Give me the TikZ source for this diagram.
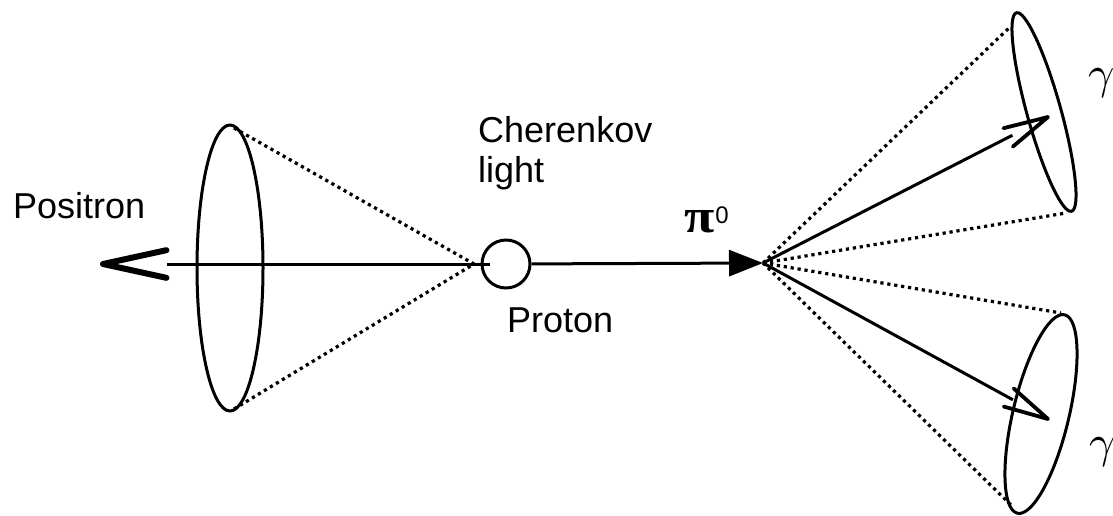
\documentclass[tikz,border=0pt]{standalone}
\usepackage{graphicx}
\usepackage{fontspec}
\setmainfont{Liberation Sans}
\newfontfamily\piserif{Liberation Serif}
\usetikzlibrary{arrows.meta,calc,shapes.geometric}
\begin{document}
\begin{tikzpicture}[x=1pt,y=1pt,
  lbl/.style={font=\fontsize{36}{40}\selectfont, inner sep=0, anchor=base west},
  main/.style={line width=3pt},
  dots/.style={line width=3.2pt, dash pattern=on 3.2pt off 3.8pt},
  barb/.style={line width=3.8pt, line cap=round, line join=round},
  ring/.style={draw, ellipse, line width=3pt, inner sep=0}]
\useasboundingbox (0,0) rectangle (1113,-515);
% proton and vertices
\node[draw, circle, main, minimum size=48pt, inner sep=0] (proton) at (506,-264) {};
\coordinate (v) at (763,-263);
\coordinate (apex) at (474,-264);
% left cone
\node[ring, minimum width=66pt, minimum height=286pt] (ringL) at (230,-268) {};
\coordinate (lt) at (234,-128);
\coordinate (lb) at (234,-409);
\draw[dots] (lt) -- (apex) -- (lb);
% positron arrow
\coordinate (pin) at (490,-264);
\coordinate (ptail) at (167,-264);
\coordinate (ptip) at (103,-264);
\draw[main] (pin) -- (ptail);
\draw[barb, line width=6pt] ($(ptip)!65pt!12.3:(ptail)$) -- (ptip) -- ($(ptip)!65pt!-12.3:(ptail)$);
% pi0 arrow
\draw[main, -{Triangle[length=34pt,width=26pt]}] (proton) -- (v);
% gamma cones
\node[ring, rotate=15.5, minimum width=34pt, minimum height=206pt] (ringA) at (1044,-112) {};
\node[ring, rotate=-13.4, minimum width=56pt, minimum height=204pt] (ringB) at (1041,-414) {};
\coordinate (at) at (1010,-27);
\coordinate (ab) at (1066,-213);
\coordinate (bt) at (1061,-313);
\coordinate (bb) at (1013,-507);
\draw[dots] (v) -- (at);
\draw[dots] (v) -- (ab);
\draw[dots] (v) -- (bt);
\draw[dots] (v) -- (bb);
% gamma arrows
\coordinate (g1) at (1048,-117);
\coordinate (g2) at (1048,-419);
\draw[main] (v) -- ($(g1)!40pt!(v)$);
\draw[barb] ($(g1)!46pt!13:(v)$) -- (g1) -- ($(g1)!46pt!-13:(v)$);
\draw[main] (v) -- ($(g2)!40pt!(v)$);
\draw[barb] ($(g2)!46pt!13:(v)$) -- (g2) -- ($(g2)!46pt!-13:(v)$);
% labels
\node[lbl] (pos) at (13,-218) {Positron};
\node[lbl] (cher) at (478,-142) {Cherenkov};
\node[lbl] (light) at (478,-182) {light};
\node[lbl] (prot) at (507,-332) {Proton};
\node[inner sep=0, anchor=base west] (pi) at (684,-232) {\scalebox{1.15}[1]{\fontsize{48}{50}\selectfont\piserif\bfseries π}\hspace{1pt}\raisebox{9pt}{\fontsize{24}{26}\selectfont 0}};
\node[inner sep=0, anchor=base west] (gA) at (1088,-88) {\scalebox{4.6}{$\gamma$}};
\node[inner sep=0, anchor=base west] (gB) at (1089,-457) {\scalebox{4.6}{$\gamma$}};
\end{tikzpicture}
\end{document}
